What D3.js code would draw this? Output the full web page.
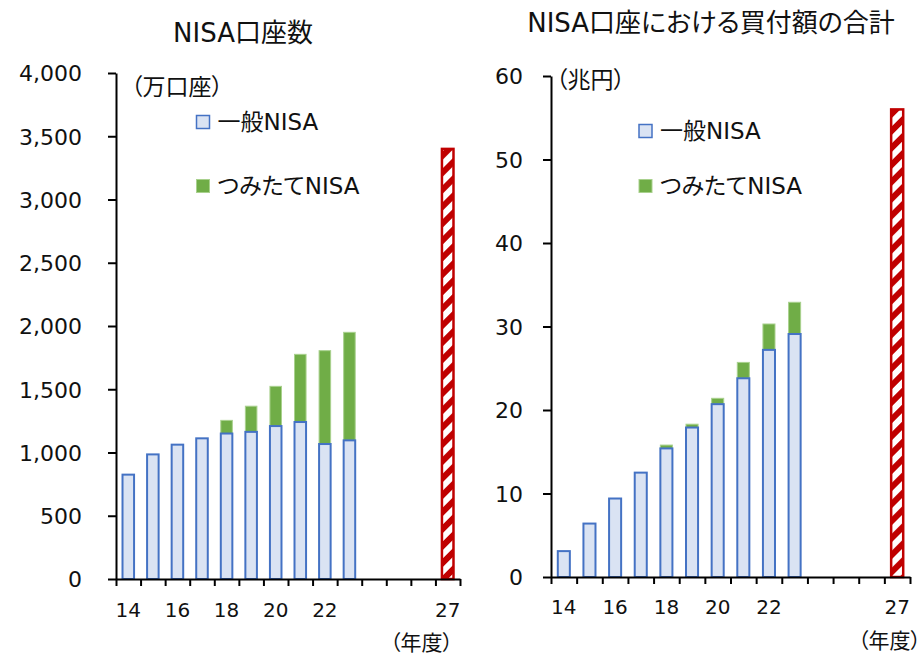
<!DOCTYPE html>
<html>
<head>
<meta charset="utf-8">
<script src="https://cdn.jsdelivr.net/npm/d3@7/dist/d3.min.js"></script>
<style>
  html, body { margin: 0; padding: 0; background: #fff; }
  svg text {
    font-family: "DejaVu Sans", "Noto Sans CJK JP", sans-serif;
    font-feature-settings: "palt";
    fill: #111;
  }
</style>
</head>
<body>
<svg id="chart" width="924" height="656"></svg>
<script>
// Fiscal years on the category axis (two-digit), and which of them get a label
const years = ["14","15","16","17","18","19","20","21","22","23","24","25","26","27"];
const shownYears = ["14","16","18","20","22","27"];
const actualYears = ["14","15","16","17","18","19","20","21","22","23"];
const targetYear = "27";

// NISA accounts (10,000 accounts)
const accountsGeneral   = [825, 985, 1062, 1112, 1150, 1163, 1209, 1241, 1067, 1096];
const accountsTsumitate = [0, 0, 0, 0, 104, 203, 314, 535, 738, 854];
const accountsTarget    = 3400;
const accountsTicks     = [0, 500, 1000, 1500, 2000, 2500, 3000, 3500, 4000];

// Cumulative purchases in NISA accounts (trillion yen)
const amountsGeneral   = [3.1, 6.4, 9.4, 12.5, 15.4, 17.9, 20.7, 23.8, 27.2, 29.1];
const amountsTsumitate = [0, 0, 0, 0, 0.4, 0.4, 0.7, 1.9, 3.1, 3.8];
const amountsTarget    = 56;
const amountsTicks     = [0, 10, 20, 30, 40, 50, 60];

const seriesNames = ["一般NISA", "つみたてNISA"];

const COLORS = {
  generalFill: "#dae3f3",
  generalStroke: "#4472c4",
  tsumitate: "#70ad47",
  tsumitateEdge: "#a9d18e",
  target: "#c00000"
};

const svg = d3.select("#chart");

// diagonal red/white hatching for the target bars
svg.append("defs").append("pattern")
  .attr("id", "hatch")
  .attr("patternUnits", "userSpaceOnUse")
  .attr("width", 12).attr("height", 12)
  .attr("patternTransform", "rotate(45)")
  .call(p => {
    p.append("rect").attr("width", 12).attr("height", 12).attr("fill", "#fff");
    p.append("rect").attr("width", 6).attr("height", 12).attr("fill", COLORS.target);
  });

function drawPanel(cfg) {
  const g = svg.append("g");

  const x = d3.scaleBand().domain(years)
    .range([cfg.x0, cfg.x1]).paddingInner(0.53).paddingOuter(0.265);
  const y = d3.scaleLinear().domain(cfg.yDomain).range([cfg.yBase, cfg.yTop]);
  const boundaries = d3.scaleLinear().domain([0, years.length]).range([cfg.x0, cfg.x1]);

  // bars: tsumitate stacked on top of general
  const rows = actualYears.map((yr, i) => ({
    yr, general: cfg.general[i], tsumitate: cfg.tsumitate[i]
  }));

  g.selectAll("rect.tsumitate").data(rows.filter(d => d.tsumitate > 0)).join("rect")
    .attr("class", "tsumitate")
    .attr("x", d => x(d.yr))
    .attr("width", x.bandwidth())
    .attr("y", d => y(d.general + d.tsumitate))
    .attr("height", d => y(d.general) - y(d.general + d.tsumitate))
    .attr("fill", COLORS.tsumitate)
    .attr("stroke", COLORS.tsumitateEdge)
    .attr("stroke-width", 1);

  g.selectAll("rect.general").data(rows).join("rect")
    .attr("class", "general")
    .attr("x", d => x(d.yr))
    .attr("width", x.bandwidth())
    .attr("y", d => y(d.general))
    .attr("height", d => y(0) - y(d.general))
    .attr("fill", COLORS.generalFill)
    .attr("stroke", COLORS.generalStroke)
    .attr("stroke-width", 2);

  g.append("rect")
    .attr("x", x(targetYear))
    .attr("width", x.bandwidth())
    .attr("y", y(cfg.target))
    .attr("height", y(0) - y(cfg.target))
    .attr("fill", "url(#hatch)")
    .attr("stroke", COLORS.target)
    .attr("stroke-width", 2.5);

  // y axis
  const yAxis = g.append("g")
    .attr("transform", `translate(${cfg.x0},0)`)
    .call(d3.axisLeft(y).tickValues(cfg.ticks).tickSize(8).tickSizeOuter(0)
      .tickPadding(cfg.yPad).tickFormat(d3.format(",")));
  yAxis.select(".domain").attr("stroke", "#000").attr("stroke-width", 2);
  yAxis.selectAll(".tick line").attr("stroke", "#000").attr("stroke-width", 2);
  yAxis.selectAll("text").attr("font-size", cfg.yFont).attr("fill", "#111")
    .attr("font-family", null).attr("dy", "0.36em");

  // x axis: boundary ticks between categories
  const xTicks = g.append("g")
    .attr("transform", `translate(0,${cfg.yBase})`)
    .call(d3.axisBottom(boundaries).tickValues(d3.range(0, years.length + 1))
      .tickSize(7).tickSizeOuter(0).tickFormat(""));
  xTicks.select(".domain").attr("stroke", "#000").attr("stroke-width", 2);
  xTicks.selectAll(".tick line").attr("stroke", "#000").attr("stroke-width", 2);

  // x axis: category labels centred in each band
  const xLabels = g.append("g")
    .attr("transform", `translate(0,${cfg.yBase})`)
    .call(d3.axisBottom(x).tickSize(0).tickPadding(cfg.xPad)
      .tickFormat(d => shownYears.includes(d) ? d : ""));
  xLabels.select(".domain").remove();
  xLabels.selectAll("text").attr("font-size", 20).attr("fill", "#111")
    .attr("font-family", null);

  // title
  g.append("text")
    .attr("x", cfg.titleX).attr("y", cfg.titleY)
    .attr("text-anchor", "middle")
    .attr("font-size", 26)
    .text(cfg.title);

  // units
  g.append("text")
    .attr("x", cfg.unitX).attr("y", cfg.unitY)
    .attr("dominant-baseline", "central")
    .attr("font-size", 23)
    .text(cfg.unit);

  g.append("text")
    .attr("x", cfg.yearUnitX).attr("y", cfg.yearUnitY)
    .attr("text-anchor", "end")
    .attr("dominant-baseline", "central")
    .attr("font-size", 21)
    .text("（年度）");

  // legend
  const legend = g.append("g");
  seriesNames.forEach((name, i) => {
    const ly = cfg.legendY[i];
    legend.append("rect")
      .attr("x", cfg.legendX).attr("y", ly - 6.5)
      .attr("width", 13).attr("height", 13)
      .attr("fill", i === 0 ? COLORS.generalFill : COLORS.tsumitate)
      .attr("stroke", i === 0 ? COLORS.generalStroke : COLORS.tsumitateEdge)
      .attr("stroke-width", i === 0 ? 1.5 : 1);
    legend.append("text")
      .attr("x", cfg.legendX + 21).attr("y", ly)
      .attr("dominant-baseline", "central")
      .attr("font-size", 23)
      .text(name);
  });
}

drawPanel({
  title: "NISA口座数", titleX: 243, titleY: 42,
  unit: "（万口座）", unitX: 131, unitY: 87,
  yearUnitX: 453, yearUnitY: 643,
  x0: 116, x1: 460, yBase: 579, yTop: 73,
  yDomain: [0, 4000], ticks: accountsTicks, yPad: 26, yFont: 22, xPad: 24,
  general: accountsGeneral, tsumitate: accountsTsumitate, target: accountsTarget,
  legendX: 196.5, legendY: [122, 186]
});

drawPanel({
  title: "NISA口座における買付額の合計", titleX: 711, titleY: 32,
  unit: "（兆円）", unitX: 556, unitY: 80,
  yearUnitX: 921, yearUnitY: 641,
  x0: 551, x1: 910, yBase: 577, yTop: 76,
  yDomain: [0, 60], ticks: amountsTicks, yPad: 20, yFont: 22, xPad: 23,
  general: amountsGeneral, tsumitate: amountsTsumitate, target: amountsTarget,
  legendX: 639, legendY: [131, 186]
});
</script>
</body>
</html>
